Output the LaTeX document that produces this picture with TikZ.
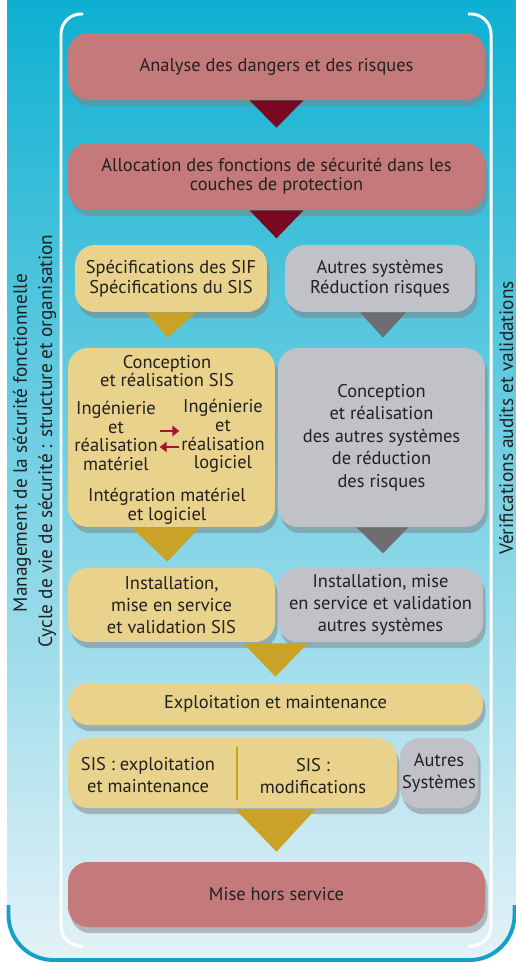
\documentclass[tikz,border=0pt]{standalone}
\usepackage{fontspec}
\setmainfont{PT Sans}
\usetikzlibrary{calc,shadows,arrows.meta}

\definecolor{bgtop}{RGB}{0,172,207}
\definecolor{bgmid}{RGB}{80,190,215}
\definecolor{bgbot}{RGB}{228,242,247}
\definecolor{rim}{RGB}{20,160,200}
\definecolor{rose}{RGB}{196,122,122}
\definecolor{sable}{RGB}{233,210,140}
\definecolor{gris}{RGB}{192,194,200}
\definecolor{bordeaux}{RGB}{122,8,34}
\definecolor{ocre}{RGB}{201,162,39}
\definecolor{ardoise}{RGB}{110,110,114}
\definecolor{fleche}{RGB}{165,20,55}
\definecolor{encre}{RGB}{35,32,32}

\begin{document}
\begin{tikzpicture}[x=0.02cm, y=-0.02cm,
	every node/.style={text=encre, font=\fontsize{10.5}{10.6}\selectfont},
	box/.style={rounded corners=0.4cm, inner sep=0pt,
		drop shadow={shadow xshift=1.5pt, shadow yshift=-3.5pt, opacity=0.5}},
	rouge/.style={box, fill=rose},
	jaune/.style={box, fill=sable},
	grise/.style={box, fill=gris},
	wide/.style={font=\fontsize{10.5}{12.6}\selectfont},
	side/.style={rotate=90, anchor=base, font=\fontsize{11}{12}\selectfont}]
	\fill[white] (0,0) rectangle (516,966);
	\useasboundingbox (0,0) rectangle (516,966);

	% Background panel and frame
	\shade[top color=bgtop, middle color=bgmid, bottom color=bgbot, rounded corners=0.9cm] (7,-60) rectangle (516,962);
	\draw[rim, line width=2.2pt, rounded corners=0.9cm] (8.5,905) -- (8.5,960) -- (514.5,960) -- (514.5,905);
	\draw[white, line width=1.7pt, rounded corners=0.4cm] (83,14) -- (61,14) -- (61,946) -- (83,946);
	\draw[white, line width=1.7pt, rounded corners=0.4cm] (468,14) -- (491,14) -- (491,946) -- (468,946);

	% Side titles
	\node[side] (mgmt) at (27,443) {Management de la sécurité fonctionnelle};
	\node[side] (cycle) at (52,441) {Cycle de vie de sécurité : structure et organisation};
	\node[side] (verif) at (513,418) {Vérifications audits et validations};

	% Lifecycle boxes
	\node[rouge, minimum width=8.34cm, minimum height=1.34cm] (ana) at (276.5,66.5) {Analyse des dangers et des risques};
	\node[rouge, minimum width=8.34cm, minimum height=1.34cm, align=center] (alloc) at (276.5,176.5) {Allocation des fonctions de sécurité dans les\\couches de protection};
	\node[jaune, minimum width=3.84cm, minimum height=1.34cm, align=center, font=\fontsize{10.5}{11.4}\selectfont] (spec) at (171,278.5) {Spécifications des SIF\\Spécifications du SIS};
	\node[grise, minimum width=3.8cm, minimum height=1.34cm, align=center, font=\fontsize{10.5}{11.4}\selectfont] (autres) at (380,278.5) {Autres systèmes\\Réduction risques};
	\node[jaune, minimum width=4.14cm, minimum height=3.58cm] (concA) at (171.5,437.5) {};
	\node[grise, minimum width=4.14cm, minimum height=3.58cm, align=center, font=\fontsize{10.5}{12.8}\selectfont] (concB) at (381.5,437.5) {Conception\\et réalisation\\des autres systèmes\\de réduction\\des risques};
	\node[jaune, minimum width=4.14cm, minimum height=1.48cm, align=center, wide] (instA) at (171.5,605) {Installation,\\mise en service\\et validation SIS};
	\node[grise, minimum width=4.1cm, minimum height=1.48cm, align=center, wide] (instB) at (380.5,605) {Installation, mise\\en service et validation\\autres systèmes};
	\node[jaune, minimum width=8.3cm, minimum height=0.84cm] (expl) at (275.5,704) {Exploitation et maintenance};
	\node[jaune, minimum width=6.58cm, minimum height=1.4cm] (sisA) at (232.5,773) {};
	\node[grise, minimum width=1.56cm, minimum height=1.4cm, align=center, wide] (autSys) at (439,773) {Autres\\Systèmes};
	\node[rouge, minimum width=8.34cm, minimum height=1.3cm] (mise) at (276.5,894.5) {Mise hors service};

	% Texts inside the SIS design box
	\node[align=center] (concT) at (167,371) {Conception\\et réalisation SIS};
	\node[align=center, inner sep=1pt] (ingMat) at (116,436) {Ingénierie\\et\\réalisation\\matériel};
	\node[align=center, inner sep=1pt] (ingLog) at (223,436) {Ingénierie\\et\\réalisation\\logiciel};
	\node[align=center] (integ) at (167,506) {Intégration matériel\\et logiciel};
	\draw[fleche, line width=1.5pt, -{Triangle[length=4pt,width=6pt]}] ([yshift=0.1cm]ingMat.east) -- ([yshift=0.1cm]ingLog.west);
	\draw[fleche, line width=1.5pt, -{Triangle[length=4pt,width=6pt]}] ([yshift=-0.22cm]ingLog.west) -- ([yshift=-0.22cm]ingMat.east);

	% Texts inside the operation box
	\node[align=center, wide] (sisExp) at (148,775) {SIS : exploitation\\et maintenance};
	\node[align=center, wide] (sisMod) at (313,776) {SIS :\\modifications};
	\draw[ocre, line width=1.2pt] ($(sisA.north)+(4.5,9)$) -- ($(sisA.south)+(4.5,-8)$);

	% Flow triangles
	\fill[bordeaux] ($(ana.south)+(-27,0)$) -- ($(ana.south)+(27,0)$) -- ($(alloc.north)+(0,-15)$) -- cycle;
	\fill[bordeaux] ($(alloc.south)+(-27,0)$) -- ($(alloc.south)+(27,0)$) -- ($(alloc.south)+(0,28)$) -- cycle;
	\fill[ocre] ($(spec.south)+(-25,0)$) -- ($(spec.south)+(25,0)$) -- ($(concA.north)+(-4,-10)$) -- cycle;
	\fill[ardoise] ($(autres.south)+(-20,0)$) -- ($(autres.south)+(26,0)$) -- ($(concB.north)+(1.5,-10)$) -- cycle;
	\fill[ocre] ($(concA.south)+(-40,0)$) -- ($(concA.south)+(28,0)$) -- ($(instA.north)+(-4,-6)$) -- cycle;
	\fill[ardoise] ($(concB.south)+(-25,0)$) -- ($(concB.south)+(27,0)$) -- ($(concB.south)+(1.5,26)$) -- cycle;
	\fill[ocre] ($(instA.south east)+(-32,1)$) -- ($(instB.south west)+(30,1)$) -- ($(expl.north)+(0,-6)$) -- cycle;
	\fill[ocre] ($(sisA.south -| mise.north)+(-41,1)$) -- ($(sisA.south -| mise.north)+(39,1)$) -- ($(mise.north)+(0,-10)$) -- cycle;
\end{tikzpicture}
\end{document}
